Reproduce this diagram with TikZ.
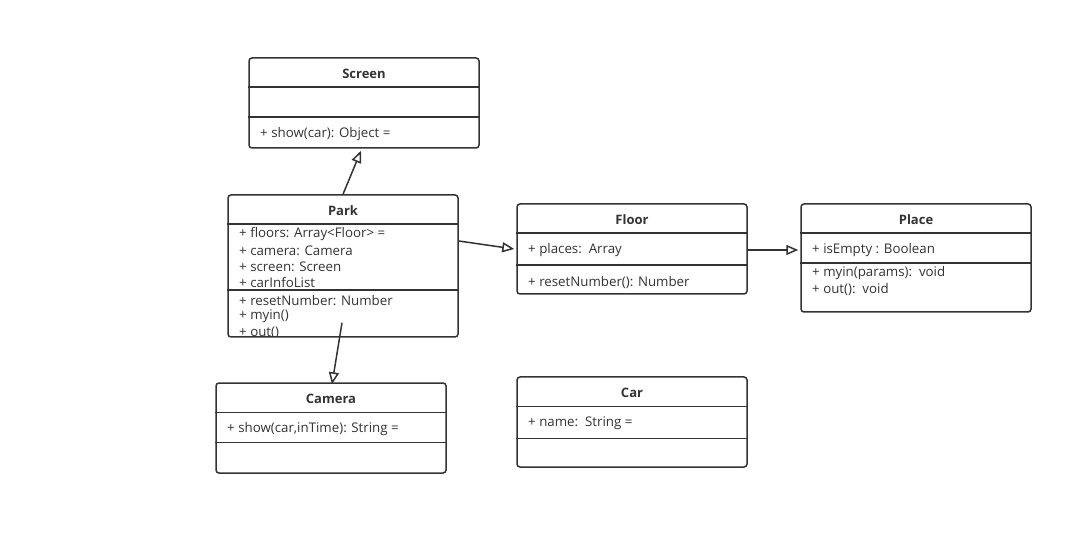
\documentclass[tikz,border=0pt]{standalone}
\usepackage{fontspec}
\setmainfont{Open Sans}
\usetikzlibrary{arrows.meta}
\definecolor{ink}{HTML}{333333}
\tikzset{
  classbox/.style={draw=ink, line width=1.5pt, rounded corners=3pt, fill=white,
    minimum width=230pt, inner sep=0pt},
  divider/.style={draw=ink, line width=1.5pt},
  title/.style={text=ink, font=\fontsize{13}{15}\selectfont\bfseries, inner sep=0pt, yshift=-1pt},
  member/.style={text=ink, font=\fontsize{13.3}{15}\selectfont, anchor=west, inner sep=0pt, yshift=-1.5pt},
  inherit/.style={draw=ink, line width=1.5pt,
    -{Triangle[open, length=12pt, width=10pt, fill=white]}}
}
\begin{document}
\begin{tikzpicture}[x=1pt,y=-1pt]
\useasboundingbox[fill=white] (0,0) rectangle (1092,534);

% Screen
\node[classbox, minimum height=90pt] (screen) at (364,103) {};
\draw[divider] ([yshift=-30pt]screen.north west) -- ([yshift=-30pt]screen.north east);
\draw[divider] ([yshift=-60pt]screen.north west) -- ([yshift=-60pt]screen.north east);
\node[title] (screen-t) at (364,73) {Screen};
\node[member] (screen-m1) at (260,133) {+ show(car): Object =};

% Park
\node[classbox, minimum height=142pt] (park) at (343,266) {};
\draw[divider] ([yshift=-30pt]park.north west) -- ([yshift=-30pt]park.north east);
\draw[divider] ([yshift=-96pt]park.north west) -- ([yshift=-96pt]park.north east);
\node[title] (park-t) at (343,210) {Park};
\begin{scope}
  \clip[rounded corners=3pt] ([shift={(1pt,1pt)}]park.south west) rectangle ([shift={(-1pt,-1pt)}]park.north east);
  \node[member] (park-a1) at (239,233) {+ floors: Array<Floor> =};
  \node[member] (park-a2) at (239,249) {+ camera: Camera};
  \node[member] (park-a3) at (239,265) {+ screen: Screen};
  \node[member] (park-a4) at (239,281) {+ carInfoList};
  \node[member] (park-m1) at (239,299) {+ resetNumber: Number};
  \node[member] (park-m2) at (239,315) {+ myin()};
  \node[member] (park-m3) at (239,331) {+ out()};
\end{scope}

% Floor
\node[classbox, minimum height=90pt] (floor) at (632,249) {};
\draw[divider] ([yshift=-30pt]floor.north west) -- ([yshift=-30pt]floor.north east);
\draw[divider] ([yshift=-62pt]floor.north west) -- ([yshift=-62pt]floor.north east);
\node[title] (floor-t) at (632,219) {Floor};
\node[member] (floor-a1) at (528,249) {+ places:\ \ Array};
\node[member] (floor-m1) at (528,281) {+ resetNumber(): Number};

% Place
\node[classbox, minimum height=108pt] (place) at (916,258) {};
\draw[divider] ([yshift=-30pt]place.north west) -- ([yshift=-30pt]place.north east);
\draw[divider] ([yshift=-60pt]place.north west) -- ([yshift=-60pt]place.north east);
\node[title] (place-t) at (916,219) {Place};
\node[member] (place-a1) at (812,249) {+ isEmpty\ : Boolean};
\node[member] (place-m1) at (812,272) {+ myin(params):\ \ void};
\node[member] (place-m2) at (812,288) {+ out():\ \ void};

% Camera
\node[classbox, minimum height=90pt] (camera) at (331,428) {};
\draw[divider] ([yshift=-30pt]camera.north west) -- ([yshift=-30pt]camera.north east);
\draw[divider] ([yshift=-60pt]camera.north west) -- ([yshift=-60pt]camera.north east);
\node[title] (camera-t) at (331,398) {Camera};
\node[member] (camera-a1) at (227,428) {+ show(car,inTime): String =};

% Car
\node[classbox, minimum height=90pt] (car) at (632,422) {};
\draw[divider] ([yshift=-30pt]car.north west) -- ([yshift=-30pt]car.north east);
\draw[divider] ([yshift=-62pt]car.north west) -- ([yshift=-62pt]car.north east);
\node[title] (car-t) at (632,392) {Car};
\node[member] (car-a1) at (528,422) {+ name:\ \ String =};

% Generalisations
\draw[inherit] (park.north) -- ([xshift=-3pt,yshift=-2pt]screen.south);
\draw[inherit] ([yshift=25pt]park.east) -- ([xshift=-2pt]floor.west);
\draw[inherit] ([yshift=-1pt]floor.east) -- ([xshift=-2pt,yshift=-1pt]floor.east -| place.west);
\draw[inherit] ([xshift=-1pt,yshift=15pt]park.south) -- ([xshift=1pt,yshift=-2pt]camera.north);
\end{tikzpicture}
\end{document}
